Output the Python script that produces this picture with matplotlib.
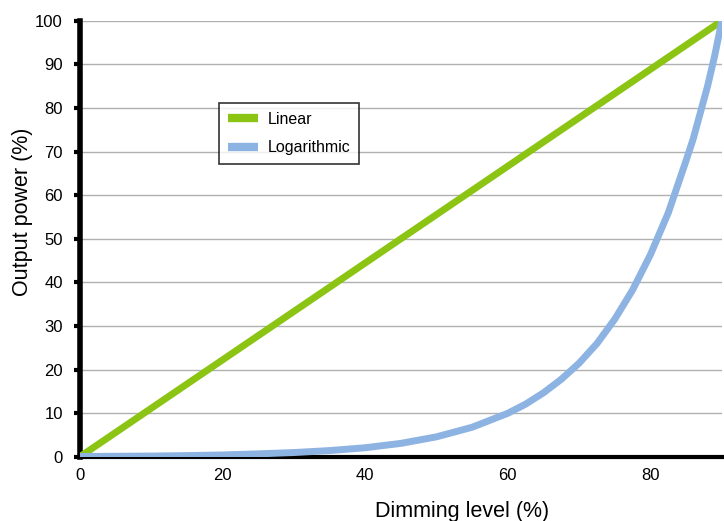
import matplotlib
matplotlib.use('Agg')
import matplotlib.pyplot as plt

plt.rcParams['font.family'] = ['Liberation Sans', 'DejaVu Sans']

# dimming level (%)
linear_x = [0, 90]
linear_y = [0, 100]

log_x = [0, 5, 10, 15, 20, 25, 30, 35, 40, 45, 50, 55, 60, 62.5, 65, 67.5, 70, 72.5,
         75, 77.5, 80, 82.5, 85, 86, 87, 88, 89, 90]
log_y = [0.1, 0.15, 0.2, 0.3, 0.45, 0.7, 1.0, 1.45, 2.1, 3.1, 4.6, 6.8, 10, 12.1, 14.7, 17.8, 21.5, 26,
         31.6, 38.3, 46.4, 56, 68, 73, 79, 85, 92, 100]

x_ticks = [0, 20, 40, 60, 80]
y_ticks = [0, 10, 20, 30, 40, 50, 60, 70, 80, 90, 100]

green = '#8cc414'
blue = '#8db3e2'

fig = plt.figure(figsize=(7.24, 5.21), dpi=100)
ax = fig.add_axes([0.11, 0.123, 0.887, 0.837])

ax.plot(linear_x, linear_y, color=green, lw=5, label='Linear', solid_capstyle='round', zorder=3)
ax.plot(log_x, log_y, color=blue, lw=5, label='Logarithmic', solid_capstyle='round',
        solid_joinstyle='round', zorder=3)

ax.set_xlim(0, 90)
ax.set_ylim(0, 100)
ax.set_xticks(x_ticks)
ax.set_yticks(y_ticks)
ax.tick_params(axis='x', length=0, pad=8, labelsize=12)
ax.tick_params(axis='y', length=4, width=3, pad=8, labelsize=12)
ax.grid(axis='y', color='#b0b0b0', lw=1)
ax.set_axisbelow(True)

for s in ['top', 'right']:
    ax.spines[s].set_visible(False)
ax.spines['left'].set_linewidth(4)
ax.spines['bottom'].set_linewidth(3)

ax.set_xlabel('Dimming level (%)', fontsize=15.5)
ax.set_ylabel('Output power (%)', fontsize=15.5)
ax.xaxis.set_label_coords(0.596, -0.1)
ax.yaxis.set_label_coords(-0.072, 0.563)

leg = ax.legend(loc='upper left', bbox_to_anchor=(0.217, 0.812), borderaxespad=0, frameon=True,
                fancybox=False, edgecolor='black', fontsize=11.5, handlelength=1.9,
                handletextpad=0.6, borderpad=0.55, labelspacing=0.85)
leg.get_frame().set_linewidth(1.2)
for h in leg.get_lines():
    h.set_linewidth(6)
    h.set_solid_capstyle('butt')

fig.savefig('out.png', dpi=100)
